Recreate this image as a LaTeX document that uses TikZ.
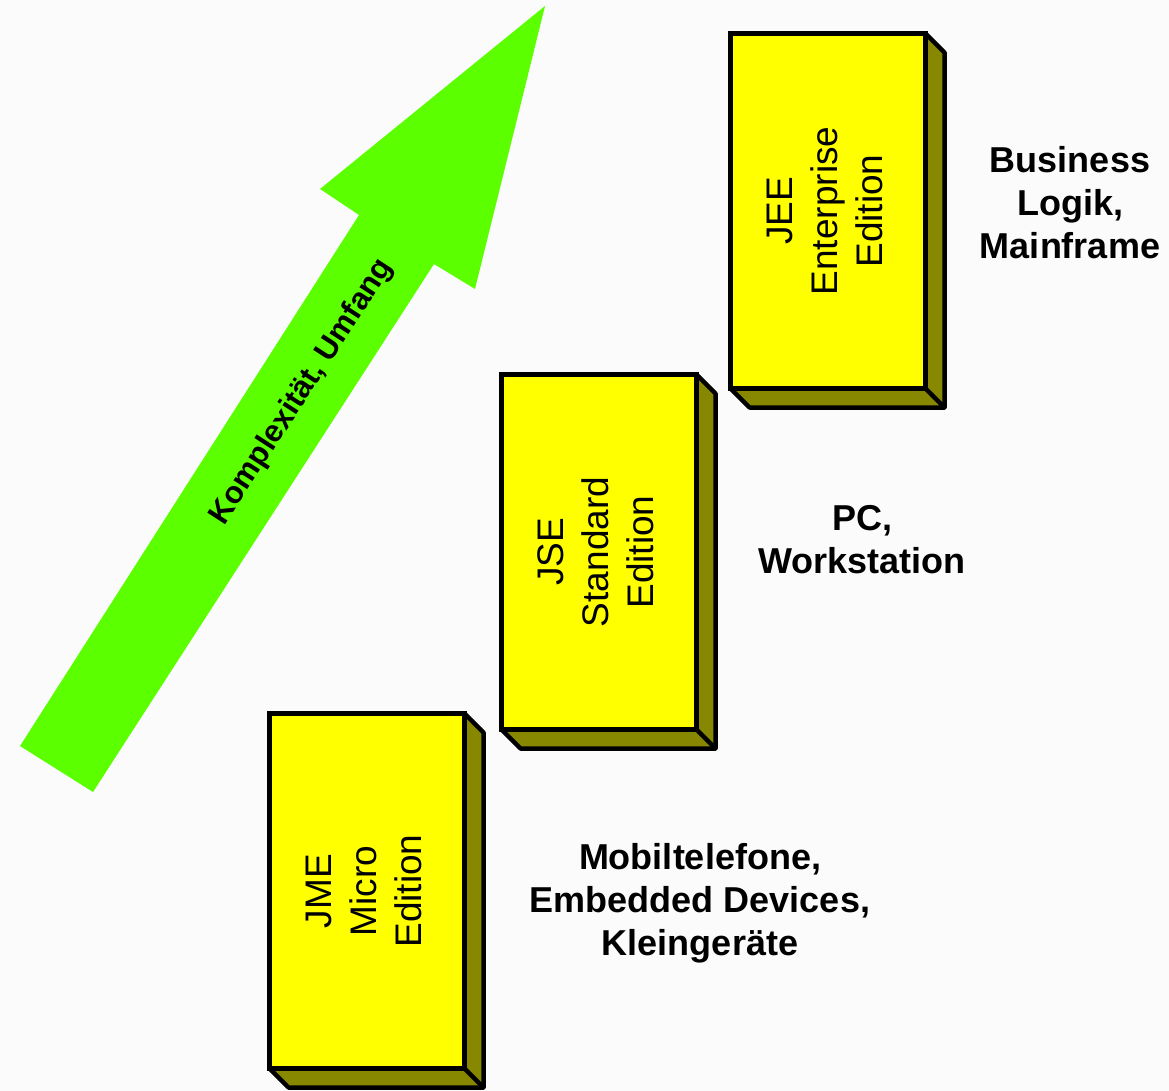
\documentclass[tikz,border=0pt]{standalone}
\usepackage{fontspec}
\setmainfont{Liberation Sans}
\usepackage{tikz}
\usetikzlibrary{positioning}
\usetikzlibrary{calc}

\definecolor{boxyellow}{RGB}{255,255,0}
\definecolor{boxside}{RGB}{136,136,0}
\definecolor{arrowgreen}{RGB}{92,255,0}
\definecolor{paper}{RGB}{251,251,251}

\tikzset{
  edition/.style={draw=black, line width=5.5pt, fill=boxyellow, minimum width=195pt, minimum height=355pt, inner sep=0pt, outer sep=0pt, font=\fontsize{37}{45}\selectfont},
  sideface/.style={draw=black, line width=4.5pt, fill=boxside, line join=round},
  platform/.style={align=center, font=\bfseries\fontsize{36}{43}\selectfont}
}

\begin{document}
\begin{tikzpicture}[x=1pt, y=-1pt]
        \useasboundingbox (0,0) rectangle (1169,1091);
        \fill[paper] (0,0) rectangle (1169,1091);

        % Growth arrow
        \fill[arrowgreen] (20,746) -- (359,215) -- (320,189) -- (545,6) -- (475,289) -- (434,264) -- (93,792) -- cycle;
        \node[font=\bfseries\fontsize{31}{36}\selectfont, rotate=57] (growth) at (302,392) {Komplexität, Umfang};

        % Define the editions
        \node[edition] (jme) at (367,891) {\rotatebox{90}{\begin{tabular}{@{}c@{}}JME\\Micro\\Edition\end{tabular}}};
        \node[edition] (jse) at (599,552) {\rotatebox{90}{\begin{tabular}{@{}c@{}}JSE\\Standard\\Edition\end{tabular}}};
        \node[edition] (jee) at (828,211) {\rotatebox{90}{\begin{tabular}{@{}c@{}}JEE\\Enterprise\\Edition\end{tabular}}};

        % Draw the depth of each box
        \foreach \b in {jme,jse,jee} {
          \draw[sideface] (\b.north east) -- ++(19,19) -- ($(\b.south east)+(19,19)$) -- ($(\b.south west)+(19,19)$) -- (\b.south west) -- (\b.south east) -- cycle;
          \draw[sideface] (\b.south east) -- ++(19,19);
        }

        % Where each edition runs
        \node[platform] (jmeuse) at (700,903) {Mobiltelefone,\\Embedded Devices,\\Kleingeräte};
        \node[platform] (jseuse) at (862,540) {PC,\\Workstation};
        \node[platform] (jeeuse) at (1070,203) {Business\\Logik,\\Mainframe};
    \end{tikzpicture}
\end{document}
